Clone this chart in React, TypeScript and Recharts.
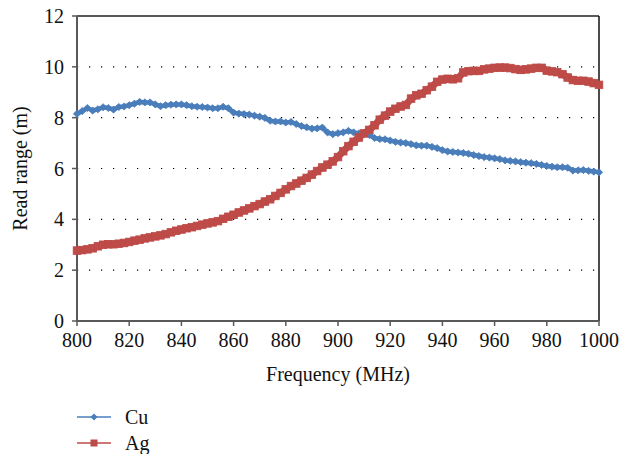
import React from 'react';
import { LineChart, Line, XAxis, YAxis, CartesianGrid, ReferenceLine } from 'recharts';

const frequencies: number[] = [
  800, 802, 804, 806, 808, 810, 812, 814, 816, 818, 820, 822, 824, 826, 828, 830, 832, 834, 836, 838,
  840, 842, 844, 846, 848, 850, 852, 854, 856, 858, 860, 862, 864, 866, 868, 870, 872, 874, 876, 878,
  880, 882, 884, 886, 888, 890, 892, 894, 896, 898, 900, 902, 904, 906, 908, 910, 912, 914, 916, 918,
  920, 922, 924, 926, 928, 930, 932, 934, 936, 938, 940, 942, 944, 946, 948, 950, 952, 954, 956, 958,
  960, 962, 964, 966, 968, 970, 972, 974, 976, 978, 980, 982, 984, 986, 988, 990, 992, 994, 996, 998, 1000,
];

const cuValues: number[] = [
  8.15, 8.26, 8.38, 8.28, 8.33, 8.41, 8.38, 8.32, 8.42, 8.44, 8.49, 8.55, 8.62, 8.6, 8.6, 8.52, 8.45, 8.49, 8.51, 8.52,
  8.52, 8.49, 8.45, 8.43, 8.42, 8.4, 8.37, 8.37, 8.43, 8.37, 8.2, 8.16, 8.14, 8.12, 8.08, 8.04, 7.99, 7.88, 7.85, 7.85,
  7.81, 7.83, 7.75, 7.67, 7.62, 7.57, 7.58, 7.61, 7.42, 7.35, 7.39, 7.42, 7.48, 7.42, 7.38, 7.36, 7.32, 7.2, 7.16, 7.15,
  7.1, 7.05, 7.02, 7.0, 6.96, 6.91, 6.9, 6.9, 6.85, 6.8, 6.72, 6.67, 6.65, 6.63, 6.61, 6.58, 6.53, 6.49, 6.45, 6.43,
  6.4, 6.37, 6.32, 6.3, 6.28, 6.25, 6.23, 6.21, 6.18, 6.14, 6.1, 6.07, 6.05, 6.05, 6.03, 5.92, 5.93, 5.94, 5.91, 5.88, 5.85,
];

const agValues: number[] = [
  2.77, 2.79, 2.82, 2.86, 2.94, 3.0, 3.02, 3.02, 3.04, 3.07, 3.11, 3.16, 3.2, 3.25, 3.29, 3.33, 3.37, 3.42, 3.49, 3.55,
  3.6, 3.65, 3.69, 3.74, 3.79, 3.84, 3.88, 3.93, 4.02, 4.1, 4.18, 4.27, 4.35, 4.43, 4.52, 4.6, 4.7, 4.79, 4.92, 5.04,
  5.18, 5.31, 5.41, 5.52, 5.63, 5.76, 5.9, 6.04, 6.15, 6.28, 6.45, 6.68, 6.88, 7.05, 7.22, 7.38, 7.52, 7.7, 7.92, 8.08,
  8.24, 8.35, 8.44, 8.5, 8.75, 8.88, 8.94, 9.08, 9.22, 9.41, 9.5, 9.53, 9.51, 9.55, 9.78, 9.83, 9.84, 9.84, 9.9, 9.93,
  9.96, 9.97, 9.97, 9.95, 9.91, 9.88, 9.9, 9.93, 9.96, 9.96, 9.85, 9.82, 9.79, 9.71, 9.58, 9.48, 9.45, 9.45, 9.42, 9.36, 9.29,
];

const xTicks: number[] = [800, 820, 840, 860, 880, 900, 920, 940, 960, 980, 1000];
const yTicks: number[] = [0, 2, 4, 6, 8, 10, 12];

const seriesNames = { cu: 'Cu', ag: 'Ag' };

const CU_COLOR = '#4A7EBB';
const AG_COLOR = '#BE4B48';
const FONT = '"Liberation Serif"';
const FS = 20;
const TEXT = '#111';

const data = frequencies.map((f, i) => ({ f, cu: cuValues[i], ag: agValues[i] }));

const Diamond = (props: any) => {
  const { cx, cy, index } = props;
  if (cx == null || cy == null) return <g key={`cu-${index}`} />;
  const r = 3.6;
  return (
    <path
      key={`cu-${index}`}
      d={`M${cx},${cy - r}L${cx + r},${cy}L${cx},${cy + r}L${cx - r},${cy}Z`}
      fill={CU_COLOR}
      stroke={CU_COLOR}
      strokeWidth={0.8}
    />
  );
};

const Square = (props: any) => {
  const { cx, cy, index } = props;
  if (cx == null || cy == null) return <g key={`ag-${index}`} />;
  const s = 3.8;
  return (
    <rect
      key={`ag-${index}`}
      x={cx - s}
      y={cy - s}
      width={s * 2}
      height={s * 2}
      fill={AG_COLOR}
      stroke={AG_COLOR}
      strokeWidth={0.8}
    />
  );
};

const textStyle = { fontFamily: FONT };

const LegendBox = () => (
  <svg width={200} height={60} style={{ position: 'absolute', left: 0, top: 400 }}>
    <line x1={77} x2={111} y1={17} y2={17} stroke={CU_COLOR} strokeWidth={1.5} />
    <path d="M94,13.5L97.5,17L94,20.5L90.5,17Z" fill={CU_COLOR} />
    <text x={125} y={24} fontSize={FS} fill={TEXT} style={textStyle}>{seriesNames.cu}</text>
    <line x1={77} x2={111} y1={43} y2={43} stroke={AG_COLOR} strokeWidth={1.5} />
    <rect x={90.5} y={39.5} width={7} height={7} fill={AG_COLOR} />
    <text x={125} y={50} fontSize={FS} fill={TEXT} style={textStyle}>{seriesNames.ag}</text>
  </svg>
);

export default function App() {
  return (
    <div style={{ position: 'absolute', left: 0, top: 0, width: 632, height: 454, background: '#fff', fontFamily: FONT }}>
      <LineChart
        width={632}
        height={454}
        data={data}
        margin={{ top: 16, right: 33, left: 0, bottom: 103 }}
        style={{ fontFamily: FONT }}
      >
        <CartesianGrid vertical={false} stroke="#000" strokeDasharray="1.2 10.8" strokeWidth={1.2} />
        <XAxis
          dataKey="f"
          type="number"
          domain={[800, 1000]}
          ticks={xTicks}
          height={30}
          tickSize={5}
          tickMargin={7}
          axisLine={{ stroke: '#595959', strokeWidth: 2 }}
          tickLine={{ stroke: '#595959', strokeWidth: 1.5 }}
          tick={{ fill: TEXT, fontSize: FS, style: textStyle }}
          interval={0}
          label={{ value: 'Frequency (MHz)', position: 'insideBottom', offset: -30, fill: TEXT, fontSize: FS, style: textStyle }}
        />
        <YAxis
          type="number"
          domain={[0, 12]}
          ticks={yTicks}
          width={77}
          tickSize={5}
          tickMargin={8}
          axisLine={{ stroke: '#595959', strokeWidth: 2 }}
          tickLine={{ stroke: '#595959', strokeWidth: 1.5 }}
          tick={{ fill: TEXT, fontSize: FS, style: textStyle }}
          interval={0}
          label={{ value: 'Read range (m)', angle: -90, position: 'insideLeft', offset: 20, fill: TEXT, fontSize: FS, style: { ...textStyle, textAnchor: 'middle' } }}
        />
        <ReferenceLine y={12} stroke="#595959" strokeWidth={2} />
        <ReferenceLine x={1000} stroke="#111" strokeWidth={1.5} />
        <Line
          type="linear"
          dataKey="cu"
          name={seriesNames.cu}
          stroke={CU_COLOR}
          strokeWidth={4.5}
          dot={Diamond}
          activeDot={false}
          isAnimationActive={false}
        />
        <Line
          type="linear"
          dataKey="ag"
          name={seriesNames.ag}
          stroke={AG_COLOR}
          strokeWidth={7}
          dot={Square}
          activeDot={false}
          isAnimationActive={false}
        />
      </LineChart>
      <LegendBox />
    </div>
  );
}
